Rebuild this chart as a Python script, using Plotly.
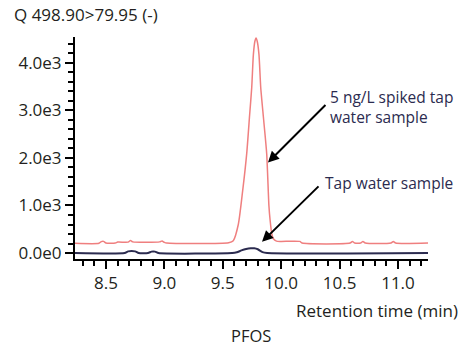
import plotly.graph_objects as go

# ---- data ----
spiked_time = [8.235, 8.44, 8.46, 8.48, 8.50, 8.58, 8.60, 8.69, 8.71, 8.73, 8.96, 8.98, 9.00, 9.02,
               9.55, 9.59, 9.633, 9.67, 9.705, 9.73, 9.748, 9.762, 9.775, 9.785, 9.795, 9.81,
               9.825, 9.85, 9.876, 9.895, 9.905, 9.92, 9.933, 9.96, 10.0, 10.16, 10.18,
               10.59, 10.61, 10.63, 10.68, 10.70, 10.72, 10.94, 10.96, 10.98, 11.257]
spiked_signal = [205, 205, 240, 245, 210, 210, 230, 230, 265, 235, 235, 255, 225, 210,
                 215, 260, 600, 1300, 2090, 2900, 3480, 4170, 4450, 4520, 4450, 4170,
                 3480, 2800, 2090, 1000, 700, 400, 300, 250, 245, 245, 210,
                 210, 245, 210, 210, 245, 210, 210, 245, 210, 210]

tap_time = [8.235, 8.66, 8.69, 8.75, 8.78, 8.86, 8.89, 8.92, 8.95, 9.58, 9.62, 9.66,
            9.70, 9.74, 9.77, 9.80, 9.84, 9.88, 11.257]
tap_signal = [0, 0, 35, 35, 0, 0, 30, 30, 0, 0, 15, 55, 85, 100, 100, 80, 20, 0, 0]

y_tick_vals = [0, 1000, 2000, 3000, 4000]
y_tick_text = ["0.0e0", "1.0e3", "2.0e3", "3.0e3", "4.0e3"]
x_tick_vals = [8.5, 9.0, 9.5, 10.0, 10.5, 11.0]
x_tick_text = ["8.5", "9.0", "9.5", "10.0", "10.5", "11.0"]

FONT = "Open Sans"
TXT = "#231f20"
NAVY = "#2b2b4f"
FS = 17

fig = go.Figure()
fig.add_trace(go.Scatter(x=spiked_time, y=spiked_signal, mode="lines",
                         line=dict(color="#ef7f7f", width=1.5, shape="spline", smoothing=0.6),
                         name="5 ng/L spiked tap water sample", showlegend=False))
fig.add_trace(go.Scatter(x=tap_time, y=tap_signal, mode="lines",
                         line=dict(color=NAVY, width=2, shape="spline", smoothing=0.6),
                         name="Tap water sample", showlegend=False))

fig.update_layout(
    width=465, height=349,
    margin=dict(l=75, r=37, t=37, b=90),
    paper_bgcolor="white", plot_bgcolor="white",
    font=dict(family=FONT, size=FS, color=TXT),
)
fig.update_xaxes(
    range=[8.235, 11.257], showgrid=False, zeroline=False,
    showline=True, linecolor="black", linewidth=2,
    ticks="outside", ticklen=8, tickwidth=1.5, tickcolor="black",
    tickvals=x_tick_vals, ticktext=x_tick_text,
    tickfont=dict(family=FONT, size=FS, color=TXT),
    minor=dict(dtick=0.1, tick0=8.3, ticks="outside", ticklen=5, tickwidth=1.5, tickcolor="black", showgrid=False),
)
fig.update_yaxes(
    range=[-125, 4540], showgrid=False, zeroline=False,
    showline=True, linecolor="black", linewidth=2,
    ticks="outside", ticklen=8, tickwidth=1.5, tickcolor="black",
    tickvals=y_tick_vals, ticktext=y_tick_text,
    tickfont=dict(family=FONT, size=FS, color=TXT),
    minor=dict(dtick=200, tick0=0, ticks="outside", ticklen=5, tickwidth=1.5, tickcolor="black", showgrid=False),
)

PW, PH = 353, 222
annotations = [
    dict(text="Q 498.90>79.95 (-)", xref="paper", yref="paper", x=(12 - 75)/PW, y=(259 - 15)/PH,
         xanchor="left", yanchor="middle", showarrow=False, font=dict(size=FS, color=TXT)),
    dict(text="Retention time (min)", xref="paper", yref="paper", x=(460 - 75)/PW, y=(259 - 310)/PH,
         xanchor="right", yanchor="middle", showarrow=False, font=dict(size=FS, color=TXT)),
    dict(text="PFOS", xref="paper", yref="paper", x=(251 - 75)/PW, y=(259 - 335)/PH,
         xanchor="center", yanchor="middle", showarrow=False, font=dict(size=16.5, color=TXT)),
    dict(text="5 ng/L spiked tap<br>water sample", xref="paper", yref="paper",
         x=(328 - 75)/PW, y=(259 - 107)/PH, xanchor="left", yanchor="middle", align="left",
         showarrow=False, font=dict(size=15.5, color=NAVY)),
    dict(text="Tap water sample", xref="paper", yref="paper",
         x=(323 - 75)/PW, y=(259 - 183)/PH, xanchor="left", yanchor="middle", align="left",
         showarrow=False, font=dict(size=15.5, color=NAVY)),
    dict(text="", x=9.887, y=1902, xref="x", yref="y", ax=59, ay=-59, showarrow=True,
         arrowhead=2, arrowsize=1.1, arrowwidth=2, arrowcolor="black"),
    dict(text="", x=9.836, y=235, xref="x", yref="y", ax=58, ay=-57, showarrow=True,
         arrowhead=2, arrowsize=1.1, arrowwidth=2, arrowcolor="black"),
]
fig.update_layout(annotations=annotations)

# remove the default 8px page margin so the figure fills the window exactly
fig.write_html("out.html",
               config={"displayModeBar": False},
               post_script="document.body.style.margin='0';document.body.style.overflow='hidden';")
